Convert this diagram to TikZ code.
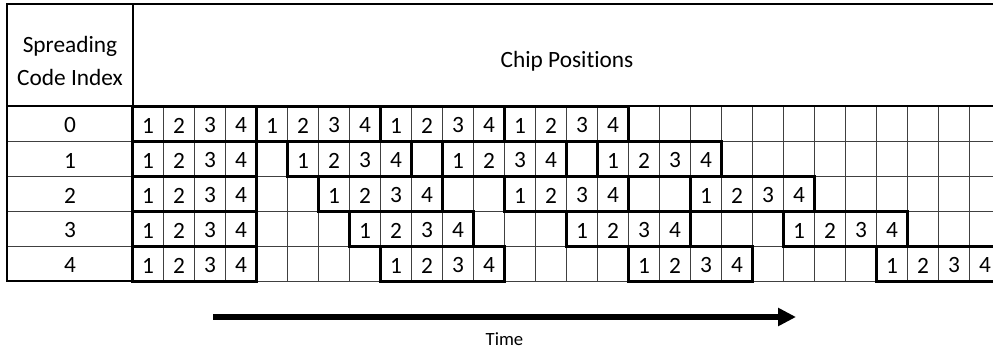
\documentclass[tikz,border=0pt]{standalone}
\usepackage{fontspec}
\setmainfont{Carlito}[Ligatures=NoCommon]
\usetikzlibrary{arrows.meta}

\begin{document}
\begin{tikzpicture}[
    x=0.75pt, y=-0.75pt,
    every node/.style={font=\fontsize{17.5}{25}\selectfont, inner sep=0pt},
    chip/.style={anchor=center},
    gridline/.style={line width=0.8pt, black!75},
    frame/.style={line width=1.5pt},
    block/.style={line width=2.4pt},
    timearrow/.style={-{Triangle[length=13.5pt, width=13pt]}, line width=4.5pt},
    small/.style={font=\fontsize{14}{16}\selectfont}
]
\useasboundingbox (0,0) rectangle (993,352);

\begin{scope}
\clip (0,0) rectangle (993,352);
% thin grid lines
\foreach \r in {1,...,4}
  \draw[gridline] (7,106.5+35*\r) -- (1010,106.5+35*\r);
\draw[gridline] (132.5,281.5) -- (1010,281.5);
\foreach \k in {1,...,29}
  \draw[gridline] (132.5+31*\k,106.5) -- (132.5+31*\k,281.5);

% outer frame
\draw[frame] (1010,4) -- (7,4) -- (7,281.5) -- (132.5,281.5);
\draw[frame] (7,106.5) -- (1010,106.5);
\draw[frame] (132.5,4) -- (132.5,281.5);

% chip blocks, one row per spreading code
\foreach \r in {0,...,4} {
  \foreach \b in {0,...,3} {
    \pgfmathsetmacro{\s}{\b*(4+\r)}
    \draw[block] (132.5+31*\s,106.5+35*\r) rectangle ++(124,35);
    \foreach \n in {1,...,4}
      \node[chip] (c-\r-\b-\n) at (132.5+31*\s+31*\n-15.5,125.5+35*\r) {\n};
  }
}
\end{scope}

% header and row labels
\node[align=center] (hdr) at (70,61) {Spreading\\Code Index};
\node (chiphdr) at (567,61) {Chip Positions};
\foreach \r in {0,...,4}
  \node (idx-\r) at (70,125.5+35*\r) {\r};

% time axis
\coordinate (tstart) at (213,317);
\coordinate (tend)   at (796,317);
\draw[timearrow] (tstart) -- (tend);
\node[small] (timelbl) at (504.5,339.5) {Time};

\end{tikzpicture}
\end{document}
